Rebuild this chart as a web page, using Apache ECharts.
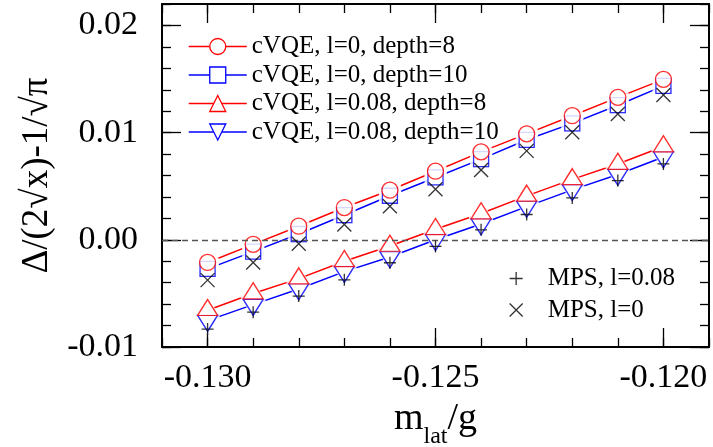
<!DOCTYPE html>
<html>
<head>
<meta charset="utf-8">
<script src="https://cdn.jsdelivr.net/npm/echarts@6/dist/echarts.min.js"></script>
<style>
  html, body { margin: 0; padding: 0; background: #fff; }
  #chart { width: 713px; height: 447px; }
</style>
</head>
<body>
<div id="chart"></div>
<script>
// Lattice mass values (m_lat / g)
const mLat = [-0.130, -0.129, -0.128, -0.127, -0.126, -0.125, -0.124, -0.123, -0.122, -0.121, -0.120];

// cVQE results
const cvqeL0D8    = [-0.00211, -0.00043, 0.00127, 0.00301, 0.00463, 0.00640, 0.00820, 0.00988, 0.01158, 0.01329, 0.01497];
const cvqeL0D10   = [-0.00271, -0.00110, 0.00054, 0.00231, 0.00411, 0.00582, 0.00753, 0.00933, 0.01086, 0.01256, 0.01436];
const cvqeL008D8  = [-0.00657, -0.00501, -0.00362, -0.00200, -0.00057, 0.00098, 0.00245, 0.00410, 0.00564, 0.00707, 0.00870];
const cvqeL008D10 = [-0.00754, -0.00605, -0.00459, -0.00297, -0.00161, 0.00001, 0.00147, 0.00310, 0.00466, 0.00609, 0.00773];

// MPS reference results
const mpsL008 = [-0.00833, -0.00675, -0.00525, -0.00373, -0.00214, -0.00062, 0.00093, 0.00236, 0.00391, 0.00553, 0.00708];
const mpsL0   = [-0.00376, -0.00212, -0.00037, 0.00143, 0.00313, 0.00472, 0.00652, 0.00830, 0.01003, 0.01174, 0.01351];

// Axis ticks
const xMajorTicks = [-0.130, -0.125, -0.120];
const yMajorTicks = [-0.01, 0.00, 0.01, 0.02];

const RED = '#ff0000';
const BLUE = '#0000ff';
const FONT = 'Liberation Serif';
const X_MIN = -0.131, X_MAX = -0.119;
const Y_MIN = -0.01, Y_MAX = 0.022;

const pairs = arr => mLat.map((x, i) => [x, arr[i]]);

const PLUS = 'path://M0,5L10,5M5,0L5,10';
const CROSS = 'path://M0,0L10,10M0,10L10,0';

const cvqe = [
  { name: 'cVQE, l=0, depth=8',     data: cvqeL0D8,    color: RED,  symbol: 'circle',   size: 16,       rotate: 0,   offset: [0, 0] },
  { name: 'cVQE, l=0, depth=10',    data: cvqeL0D10,   color: BLUE, symbol: 'rect',     size: 15,       rotate: 0,   offset: [0, 0] },
  { name: 'cVQE, l=0.08, depth=8',  data: cvqeL008D8,  color: RED,  symbol: 'triangle', size: [20, 16], rotate: 0,   offset: [0, -2.7] },
  { name: 'cVQE, l=0.08, depth=10', data: cvqeL008D10, color: BLUE, symbol: 'triangle', size: [20, 16], rotate: 180, offset: [0, 2.7] }
];
const mps = [
  { name: 'MPS, l=0.08', data: mpsL008, symbol: PLUS,  size: 12 },
  { name: 'MPS, l=0',    data: mpsL0,   symbol: CROSS, size: 14 }
];

const grow = (s, d) => Array.isArray(s) ? [s[0] + d, s[1] + d] : s + d;

const series = [];

// Connecting lines (named series, used by the legend)
cvqe.forEach((c, i) => {
  const s = {
    name: c.name, type: 'line', data: pairs(c.data), z: 2,
    symbol: c.symbol, symbolSize: c.size, symbolRotate: c.rotate, symbolOffset: c.offset,
    showSymbol: true,
    lineStyle: { color: c.color, width: 1.5 },
    itemStyle: { color: '#fff', borderColor: c.color, borderWidth: 1.3 },
    emphasis: { disabled: true }, silent: true
  };
  if (i === 0) {
    s.markLine = {
      silent: true, symbol: 'none', label: { show: false },
      lineStyle: { color: '#555', type: [6, 4], width: 1.3 },
      data: [{ yAxis: 0 }]
    };
  }
  series.push(s);
});

// White halos that open small gaps in the lines around each marker
cvqe.forEach(c => {
  series.push({
    type: 'scatter', data: pairs(c.data), z: 3, silent: true,
    symbol: c.symbol, symbolSize: grow(c.size, 7), symbolRotate: c.rotate, symbolOffset: c.offset,
    itemStyle: { color: '#fff', borderWidth: 0 },
    emphasis: { disabled: true }
  });
});

// Open markers on top
[1, 0, 3, 2].forEach(k => {
  const c = cvqe[k];
  series.push({
    type: 'scatter', data: pairs(c.data), z: 4, silent: true,
    symbol: c.symbol, symbolSize: c.size, symbolRotate: c.rotate, symbolOffset: c.offset,
    itemStyle: { color: '#fff', borderColor: c.color, borderWidth: 1.3 },
    emphasis: { disabled: true }
  });
});

// MPS points
mps.forEach(m => {
  series.push({
    name: m.name, type: 'scatter', data: pairs(m.data), z: 5, silent: true,
    symbol: m.symbol, symbolSize: m.size, symbolKeepAspect: true,
    itemStyle: { color: 'rgba(0,0,0,0)', borderColor: '#000', borderWidth: 1.3 },
    emphasis: { disabled: true }
  });
});

const tickLine = { color: '#000', width: 1.3 };
const frameLine = { show: true, onZero: false, lineStyle: { color: '#000', width: 2 } };
const hiddenLine = { show: false, onZero: false };

const xBase = { type: 'value', min: X_MIN, max: X_MAX, splitLine: { show: false } };
const yBase = { type: 'value', min: Y_MIN, max: Y_MAX, splitLine: { show: false } };

const option = {
  animation: false,
  backgroundColor: '#fff',
  grid: { left: 162, right: 4, top: 4, bottom: 100, containLabel: false, outerBoundsMode: 'none' },
  xAxis: [
    Object.assign({}, xBase, {
      position: 'bottom',
      axisLine: frameLine,
      axisTick: { show: true, inside: true, length: 19, customValues: xMajorTicks, lineStyle: tickLine },
      axisLabel: { customValues: xMajorTicks, formatter: v => v.toFixed(3), fontFamily: FONT, fontSize: 34, color: '#000', margin: 14 },
      name: '{m|m}{s|lat}{m|/g}',
      nameLocation: 'middle', nameGap: 49,
      nameTextStyle: {
        rich: {
          m: { fontFamily: FONT, fontSize: 38, lineHeight: 38, color: '#000', verticalAlign: 'top' },
          s: { fontFamily: FONT, fontSize: 24, lineHeight: 24, color: '#000', verticalAlign: 'top', padding: [25, 0, 0, 0] }
        }
      }
    }),
    Object.assign({}, xBase, {
      position: 'bottom', interval: 0.001,
      axisLine: hiddenLine,
      axisTick: { show: true, inside: true, length: 9, lineStyle: tickLine },
      axisLabel: { show: false }
    }),
    Object.assign({}, xBase, {
      position: 'top',
      axisLine: frameLine,
      axisTick: { show: true, inside: true, length: 19, customValues: xMajorTicks, lineStyle: tickLine },
      axisLabel: { show: false }
    }),
    Object.assign({}, xBase, {
      position: 'top', interval: 0.001,
      axisLine: hiddenLine,
      axisTick: { show: true, inside: true, length: 9, lineStyle: tickLine },
      axisLabel: { show: false }
    })
  ],
  yAxis: [
    Object.assign({}, yBase, {
      position: 'left',
      axisLine: frameLine,
      axisTick: { show: true, inside: true, length: 19, customValues: yMajorTicks, lineStyle: tickLine },
      axisLabel: { customValues: yMajorTicks, formatter: v => v.toFixed(2), fontFamily: FONT, fontSize: 34, color: '#000', margin: 24 },
      name: 'Δ/(2√x)-1/√π',
      nameLocation: 'middle', nameRotate: 90, nameGap: 104,
      nameTextStyle: { fontFamily: FONT, fontSize: 37, color: '#000' }
    }),
    Object.assign({}, yBase, {
      position: 'left', interval: 0.002,
      axisLine: hiddenLine,
      axisTick: { show: true, inside: true, length: 9, lineStyle: tickLine },
      axisLabel: { show: false }
    }),
    Object.assign({}, yBase, {
      position: 'right',
      axisLine: frameLine,
      axisTick: { show: true, inside: true, length: 19, customValues: yMajorTicks, lineStyle: tickLine },
      axisLabel: { show: false }
    }),
    Object.assign({}, yBase, {
      position: 'right', interval: 0.002,
      axisLine: hiddenLine,
      axisTick: { show: true, inside: true, length: 9, lineStyle: tickLine },
      axisLabel: { show: false }
    })
  ],
  legend: [
    {
      data: cvqe.map(c => c.name),
      orient: 'vertical', left: 188, top: 34, padding: 0,
      itemWidth: 58, itemHeight: 20, itemGap: 3.5,
      selectedMode: false,
      lineStyle: { width: 1.5 },
      itemStyle: { borderWidth: 1.3 },
      textStyle: { fontFamily: FONT, fontSize: 25, lineHeight: 20, color: '#000' }
    },
    {
      data: mps.map(m => ({ name: m.name, itemStyle: { color: 'rgba(0,0,0,0)', borderColor: '#000', borderWidth: 1.3 } })),
      orient: 'vertical', left: 509, top: 266, padding: 0,
      itemWidth: 53, itemHeight: 13, itemGap: 6.5,
      selectedMode: false,
      textStyle: { fontFamily: FONT, fontSize: 25, lineHeight: 20, color: '#000' }
    }
  ],
  series: series
};

const chart = echarts.init(document.getElementById('chart'), null, { renderer: 'canvas' });
chart.setOption(option);
</script>
</body>
</html>
